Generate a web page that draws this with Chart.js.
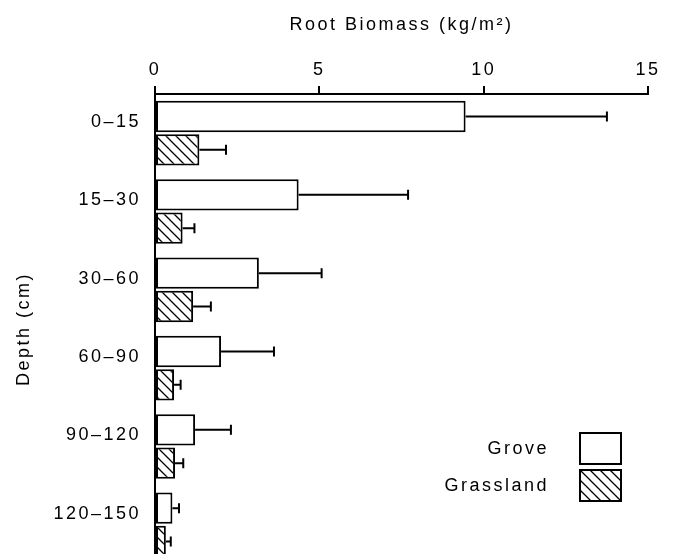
<!DOCTYPE html>
<html>
<head>
<meta charset="utf-8">
<script src="https://cdn.jsdelivr.net/npm/chart.js@4.4.1/dist/chart.umd.min.js"></script>
<style>
  html, body { margin: 0; padding: 0; background: #fff; overflow: hidden; }
  canvas { display: block; }
</style>
</head>
<body>
<canvas id="chart" width="691" height="564"></canvas>
<script>
// Depth classes and root biomass (kg/m2)
const depthLabels = ['0–15', '15–30', '30–60', '60–90', '90–120', '120–150'];
const groveValues = [9.45, 4.37, 3.16, 2.01, 1.22, 0.53];
const groveErrors = [4.30, 3.33, 1.91, 1.61, 1.09, 0.20];
const grassValues = [1.35, 0.84, 1.16, 0.58, 0.61, 0.33];
const grassErrors = [0.81, 0.36, 0.54, 0.20, 0.25, 0.15];
const biomassTicks = [0, 5, 10, 15];

const FONT = '"Liberation Sans", Arial, sans-serif';

// Diagonal hatch used for the grassland bars
function makeHatch() {
  const c = document.createElement('canvas');
  c.width = 10;
  c.height = 10;
  const g = c.getContext('2d');
  g.fillStyle = '#fff';
  g.fillRect(0, 0, 10, 10);
  g.strokeStyle = '#000';
  g.lineWidth = 1.3;
  g.beginPath();
  g.moveTo(-2, -2); g.lineTo(12, 12);
  g.moveTo(-2, 8); g.lineTo(2, 12);
  g.moveTo(8, -2); g.lineTo(12, 2);
  g.stroke();
  return g.createPattern(c, 'repeat');
}
const hatch = makeHatch();

// Canvas letter spacing, the scanned lettering is set wide
const spacing = {
  id: 'spacing',
  beforeUpdate(chart) { chart.ctx.letterSpacing = '2.5px'; },
  beforeDraw(chart) { chart.ctx.letterSpacing = '2.5px'; }
};

// Horizontal error bars with end caps
const errorBars = {
  id: 'errorBars',
  afterDatasetsDraw(chart) {
    const ctx = chart.ctx;
    const xScale = chart.scales.x;
    ctx.save();
    ctx.strokeStyle = '#000';
    ctx.lineWidth = 2;
    chart.data.datasets.forEach((ds, i) => {
      const meta = chart.getDatasetMeta(i);
      meta.data.forEach((bar, j) => {
        const end = xScale.getPixelForValue(ds.data[j] + ds.errors[j]);
        ctx.beginPath();
        ctx.moveTo(bar.x, bar.y);
        ctx.lineTo(end, bar.y);
        ctx.moveTo(end, bar.y - 5);
        ctx.lineTo(end, bar.y + 5);
        ctx.stroke();
      });
    });
    ctx.restore();
  }
};

// Key in the lower right, text first then swatch
const legendKey = {
  id: 'legendKey',
  afterDraw(chart) {
    const ctx = chart.ctx;
    ctx.save();
    ctx.font = '18px ' + FONT;
    ctx.textAlign = 'right';
    ctx.textBaseline = 'middle';
    chart.data.datasets.forEach((ds, i) => {
      const top = 433 + i * 37;
      ctx.fillStyle = '#000';
      ctx.fillText(ds.label, 549, top + 16);
      ctx.fillStyle = ds.backgroundColor;
      ctx.fillRect(580, top, 41, 31);
      ctx.lineWidth = 2;
      ctx.strokeStyle = '#000';
      ctx.strokeRect(580, top, 41, 31);
    });
    ctx.restore();
  }
};

Chart.defaults.color = '#000';
Chart.defaults.font.family = FONT;
Chart.defaults.font.size = 18;

new Chart(document.getElementById('chart'), {
  type: 'bar',
  data: {
    labels: depthLabels,
    datasets: [
      {
        label: 'Grove',
        data: groveValues,
        errors: groveErrors,
        backgroundColor: '#fff',
        borderColor: '#000',
        borderWidth: 2,
        borderSkipped: false
      },
      {
        label: 'Grassland',
        data: grassValues,
        errors: grassErrors,
        backgroundColor: hatch,
        borderColor: '#000',
        borderWidth: 2,
        borderSkipped: false
      }
    ]
  },
  options: {
    indexAxis: 'y',
    responsive: false,
    animation: false,
    categoryPercentage: 0.85,
    barPercentage: 0.94,
    layout: { padding: { left: 0, right: 43, top: 0, bottom: 0 } },
    plugins: {
      legend: { display: false },
      tooltip: { enabled: false }
    },
    scales: {
      x: {
        position: 'top',
        min: 0,
        max: 15,
        afterBuildTicks(scale) {
          scale.ticks = biomassTicks.map(v => ({ value: v }));
        },
        afterFit(scale) { scale.height = 94; },
        grid: {
          drawOnChartArea: false,
          drawTicks: true,
          tickLength: 8,
          color: '#000',
          lineWidth: 2
        },
        border: { display: true, color: '#000', width: 2 },
        ticks: { padding: 5, font: { size: 18 } },
        title: {
          display: true,
          text: 'Root Biomass (kg/m²)',
          font: { size: 18 },
          padding: { top: 14, bottom: 0 }
        }
      },
      y: {
        position: 'left',
        afterFit(scale) {
          scale.width = 155;
          // the axis runs off the bottom of the page, so no room is kept for labels there
          scale.paddingTop = 0;
          scale.paddingBottom = 0;
        },
        grid: { display: true, drawOnChartArea: false, drawTicks: false },
        border: { display: true, color: '#000', width: 2 },
        ticks: { padding: 14, labelOffset: -11, font: { size: 18 } },
        title: {
          display: true,
          text: 'Depth (cm)',
          font: { size: 18 },
          padding: { top: 13, bottom: 0 }
        }
      }
    }
  },
  plugins: [spacing, errorBars, legendKey]
});
</script>
</body>
</html>
